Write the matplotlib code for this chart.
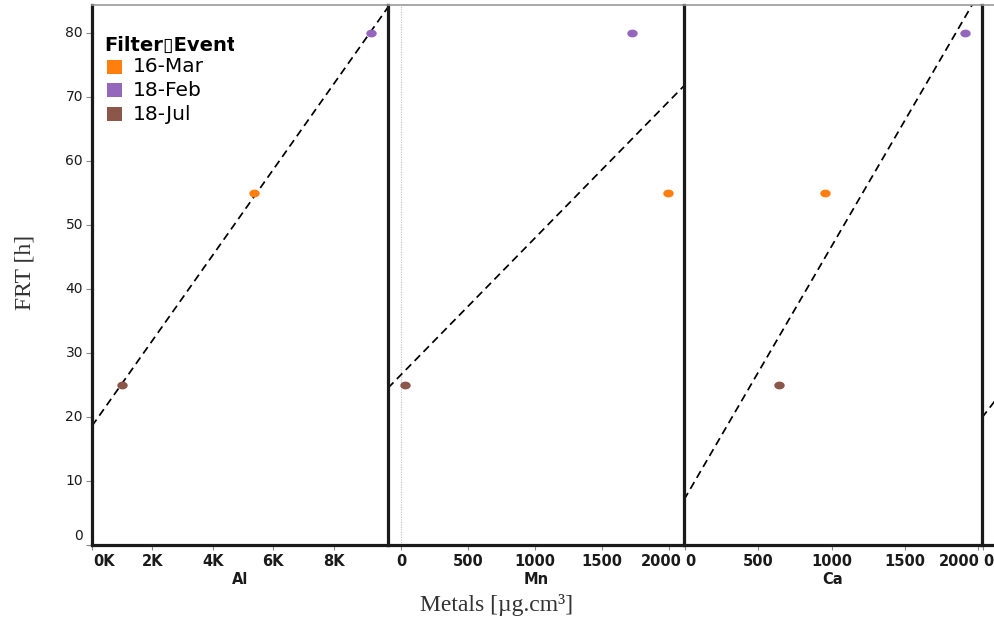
import numpy as np
import matplotlib
matplotlib.use("Agg")
import matplotlib.pyplot as plt
from matplotlib.path import Path
from matplotlib.patches import Rectangle
from matplotlib.transforms import Bbox, blended_transform_factory, ScaledTranslation
from matplotlib.ticker import FixedLocator

# ---------------- data ----------------
metals = ["Al", "Mn", "Ca", "Fe"]
events = ["16-Mar", "18-Feb", "18-Jul"]
event_colors = ["#ff7f0e", "#9467bd", "#8c564b"]
frt = [55, 80, 25]
al_vals = [5360, 9240, 1000]
mn_vals = [1996, 1726, 27]
ca_vals = [956, 1909, 642]
fe_vals = [1200, 2000, 150]
metal_vals = [al_vals, mn_vals, ca_vals, fe_vals]

xlims = [(0, 9800), (-101, 2114), (-5, 2025), (-10, 2010)]
xticks = [[0, 2000, 4000, 6000, 8000],
          [0, 500, 1000, 1500, 2000],
          [0, 500, 1000, 1500, 2000],
          [0, 500, 1000, 1500, 2000]]
yticks = [0, 10, 20, 30, 40, 50, 60, 70, 80]
ylim = (0, 84.4)

# ---------------- layout ----------------
W, H = 995, 625
fig = plt.figure(figsize=(W / 100, H / 100), dpi=100)
fig.patch.set_facecolor("white")

def fx(px):
    return px / W

def fy(py):
    return 1 - py / H

pane_px = [(92, 388), (388, 684), (684, 982), (982, 1278)]
top_px, bot_px = 5, 545

# elliptical marker
t = np.linspace(0, 2 * np.pi, 40)
ell = Path(np.column_stack([np.cos(t), 0.75 * np.sin(t)]), closed=True)

fig.canvas.draw()
axes = []
for i, (m, vals) in enumerate(zip(metals, metal_vals)):
    x0, x1 = pane_px[i]
    ax = fig.add_axes([fx(x0), fy(bot_px), (x1 - x0) / W, (bot_px - top_px) / H])
    ax.set_xlim(*xlims[i])
    ax.set_ylim(*ylim)
    ax.set_facecolor("none")
    for s in ["left", "bottom"]:
        ax.spines[s].set_color("#1a1a1a")
        ax.spines[s].set_linewidth(2.3)
    ax.spines["right"].set_visible(False)
    ax.spines["top"].set_color("#9a9a9a")
    ax.spines["top"].set_linewidth(1.2)

    # zero line
    if xlims[i][0] < 0:
        ax.axvline(0, color="#c8c8c8", lw=0.9, ls=(0, (1, 1)), zorder=0)

    # points
    for v, y, c in zip(vals, frt, event_colors):
        ax.plot([v], [y], marker=ell, ms=7.5, color=c, ls="none", zorder=3,
                markeredgewidth=0)

    # trend line (OLS)
    slope, icpt = np.polyfit(vals, frt, 1)
    xs = np.array(xlims[i])
    ax.plot(xs, slope * xs + icpt, color="black", lw=1.25, ls=(0, (4.5, 2.8)), zorder=2)

    ax.xaxis.set_major_locator(FixedLocator(xticks[i]))
    ax.tick_params(axis="x", direction="out", length=3.5, width=0.8, color="#888888",
                   labelbottom=False)
    if i == 0:
        ax.set_yticks(yticks)
        ax.tick_params(axis="y", direction="out", length=4, width=0.8, color="#888888",
                       labelleft=False)
    else:
        ax.set_yticks([])
    axes.append(ax)

# manual x tick labels, kept inside each pane (only those that fall in the picture)
fig.canvas.draw()
renderer = fig.canvas.get_renderer()
for i, ax in enumerate(axes):
    x0, x1 = pane_px[i]
    trans = blended_transform_factory(ax.transData, ax.transAxes) + \
        ScaledTranslation(0, -9 / 100, fig.dpi_scale_trans)
    span = xlims[i][1] - xlims[i][0]
    ppu = (x1 - x0) / span
    for v in xticks[i]:
        tick_px = x0 + (v - xlims[i][0]) * ppu
        if tick_px > W:
            continue
        lab = f"{v // 1000}K" if i == 0 else f"{v}"
        tx = ax.text(v, 0, lab, transform=trans, ha="center", va="top",
                     fontsize=10.5, fontweight="bold", color="#1a1a1a",
                     family="DejaVu Sans", clip_on=False)
        bb = tx.get_window_extent(renderer)
        shift = 0
        if bb.x0 < x0 + 1:
            shift = (x0 + 1) - bb.x0
        elif bb.x1 > x1 - 2:
            shift = (x1 - 2) - bb.x1
        if shift:
            tx.set_x(v + shift / ppu)

# y tick labels
ax0 = axes[0]
for v in yticks:
    tr = blended_transform_factory(fig.transFigure, ax0.transData)
    tx = ax0.text(fx(83), v, f"{v}", transform=tr, ha="right",
                  va="bottom" if v == 0 else "center", fontsize=10,
                  color="#1a1a1a", family="DejaVu Sans", clip_on=False)
    if v == 0:
        tx.set_y(0.25)

# panel labels (only panes whose centre is inside the picture)
for i, m in enumerate(metals):
    x0, x1 = pane_px[i]
    if (x0 + x1) / 2 > W:
        continue
    fig.text(fx((x0 + x1) / 2), fy(580), m, ha="center", va="center",
             fontsize=10.5, fontweight="bold", color="#1a1a1a", family="DejaVu Sans")

# axis titles
serif = ["Liberation Serif", "DejaVu Serif"]
fig.text(fx(497), fy(605), "Metals [\u00b5g.cm\u00b3]", ha="center", va="center",
         fontsize=17, family=serif, color="#333333")
fig.text(fx(25), fy(272), "FRT [h]", ha="center", va="center", rotation=90,
         fontsize=17, family=serif, color="#333333")

# legend
title = fig.text(fx(104), fy(45), "Filter\u25afEvent", ha="left",
                 va="center", fontsize=14, fontweight="bold", color="black",
                 family="DejaVu Sans")
title.set_clip_box(Bbox([[0, 0], [234, H]]))
title.set_clip_on(True)
for j, (ev, c) in enumerate(zip(events, event_colors)):
    yc = [67, 90, 114][j]
    fig.patches.append(Rectangle((fx(107), fy(yc + 7)), 15 / W, 14 / H,
                                 transform=fig.transFigure, facecolor=c,
                                 edgecolor="none"))
    fig.text(fx(133), fy(yc), ev, ha="left", va="center", fontsize=14.5,
             color="black", family="DejaVu Sans")

fig.savefig("out.png", dpi=100)
